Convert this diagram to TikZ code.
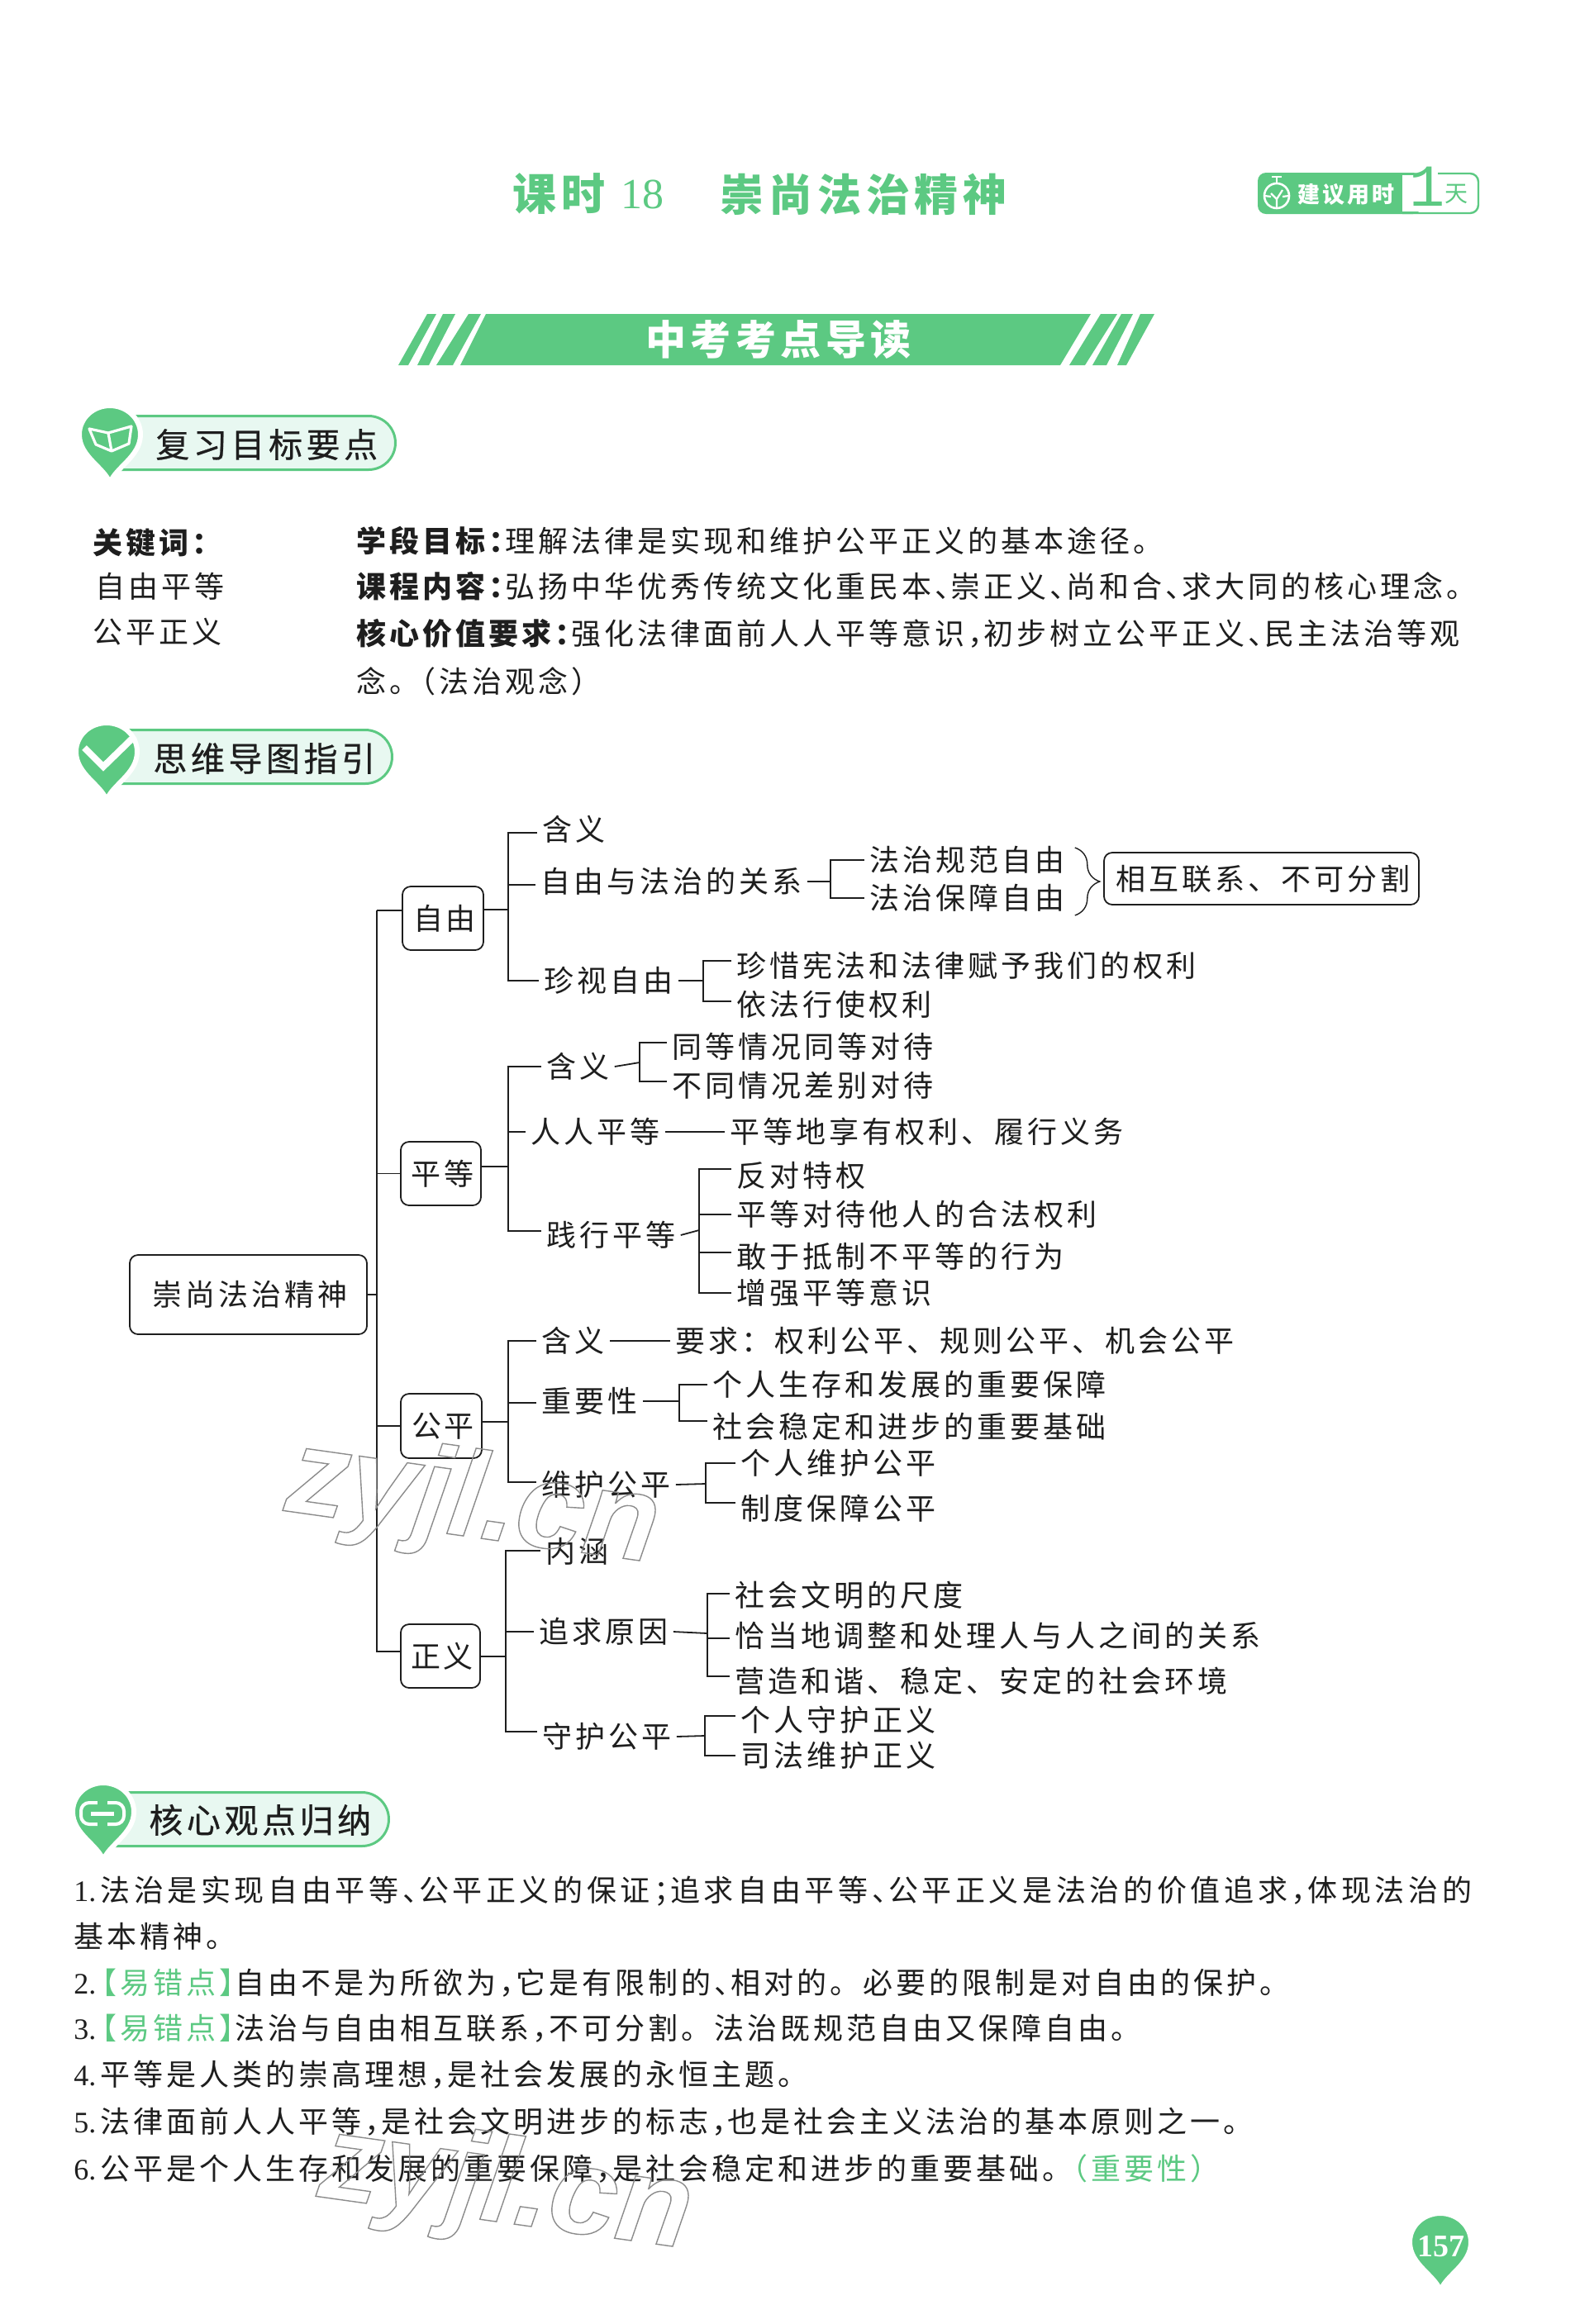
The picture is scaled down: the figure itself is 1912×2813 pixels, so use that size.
\documentclass[tikz,border=0pt]{standalone}
\usepackage{fontspec}
\usepackage{xcolor}
\usepackage{tikz}
\usetikzlibrary{positioning, arrows.meta, shapes.misc, calc, decorations.pathreplacing}

\setmainfont{Noto Sans CJK SC}[LetterSpace=11.1]
\newfontfamily\widefont{Noto Sans CJK SC}[LetterSpace=12.9]
\newfontfamily\headfont{Noto Sans CJK SC}[LetterSpace=11.1, FakeBold=0.6]
\newfontfamily\serifnum{Liberation Serif}
\newfontfamily\markfont{Liberation Sans}
\newfontfamily\monofig{Liberation Mono}
\definecolor{pagegreen}{HTML}{5CC982}
\definecolor{pillfill}{HTML}{E8F8F1}
\definecolor{inkblack}{HTML}{1E1E1E}
% half-width punctuation of the running text
\newcommand{\hw}[1]{#1\kern-.45em}
\newcommand{\hwl}[1]{\kern-.45em#1}
\newcommand{\itemnum}[1]{{\serifnum #1\kern 2.5pt}}
\newcommand{\outlinetext}[1]{\special{pdf:code q 1 Tr 0.7 w 0.55 0.55 0.55 RG}#1\special{pdf:code Q}}

\begin{document}
\begin{tikzpicture}[
    x=0.5pt, y=-0.5pt,
    leaf/.style={anchor=west, inner ysep=0pt, inner xsep=3pt, text height=15.8pt, text depth=2.2pt, text=inkblack, font=\fontsize{18}{20}\selectfont},
    textline/.style={leaf, inner xsep=0pt},
    mapbox/.style={draw=inkblack, rounded corners=5pt, line width=0.9pt, inner sep=0pt, text=inkblack, font=\fontsize{18}{20}\selectfont, execute at begin node={\kern 2pt}},
    headtext/.style={anchor=west, inner sep=0pt, text=inkblack, font=\fontsize{20.5}{22}\selectfont\headfont},
    headpill/.style={draw=pagegreen, fill=pillfill, line width=1.5pt, rounded rectangle, rounded rectangle left arc=none, anchor=west, minimum height=32.5pt, inner sep=0pt},
    treeline/.style={draw=inkblack, line width=0.9pt},
    linkline/.style={draw=inkblack, line width=1.3pt},
    stripe/.style={fill=pagegreen},
    pinmark/.pic={
        \fill[pagegreen, draw=white, line width=3pt] (0,57) .. controls (-6,38) and (-37,25) .. (-37,-2) .. controls (-37,-22) and (-20,-37) .. (0,-37) .. controls (20,-37) and (37,-22) .. (37,-2) .. controls (37,25) and (6,38) .. (0,57) -- cycle;
    }
]
\useasboundingbox (0,0) rectangle (1912,2813);
\fill[white] (0,0) rectangle (1912,2813);

% title row
\node[anchor=west, inner sep=0pt, text=pagegreen, font=\fontsize{26.5}{28}\selectfont\bfseries] (titlekeshi) at (620,235) {课时};
\node[anchor=west, inner sep=0pt, text=pagegreen, font=\fontsize{26}{28}\selectfont\serifnum] (titlenum) at (751,235) {18};
\node[anchor=west, inner sep=0pt, text=pagegreen, font=\fontsize{26.5}{28}\selectfont\bfseries] (titlename) at (871,235) {崇尚法治精神};

% suggested time badge
\fill[pagegreen, rounded corners=5pt] (1522,209) -- (1720,209) -- (1720,259) -- (1522,259) -- cycle;
\fill[white] (1697,212) rectangle (1790,256);
\draw[pagegreen, line width=1.2pt] (1697,210) -- (1705,210);
\draw[pagegreen, line width=1.2pt, rounded corners=5pt] (1740,210) -- (1789,210) -- (1789,258) -- (1697,258);
\draw[white, line width=1.3pt] (1545,237) circle [radius=15];
\draw[white, line width=1.3pt] (1545,222) -- (1545,215) (1539,214) -- (1551,214);
\draw[white, line width=1.1pt] (1538,234) -- (1545,241) -- (1552,230) (1545,241) -- (1545,252) (1530,237) -- (1538,238) (1552,238) -- (1560,237);
\node[anchor=west, inner sep=0pt, text=white, font=\fontsize{13.5}{15}\selectfont\bfseries] (badgetext) at (1570,235) {建议用时};
\node[anchor=center, inner sep=0pt, text=pagegreen, font=\fontsize{36}{36}\selectfont\monofig] (badgeone) at (1727,226) {1};
\node[anchor=center, inner sep=0pt, text=pagegreen, font=\fontsize{14}{15}\selectfont] (badgeday) at (1762,235) {天};

% guide banner
\fill[stripe] (588,380) -- (1320,380) -- (1283,442) -- (557,442) -- cycle;
\fill[stripe] (567,380) -- (582,380) -- (548,442) -- (528,442) -- cycle;
\fill[stripe] (536,380) -- (551,380) -- (519,442) -- (505,442) -- cycle;
\fill[stripe] (517,380) -- (528,380) -- (494,442) -- (482,442) -- cycle;
\fill[stripe] (1332,380) -- (1352,380) -- (1313,442) -- (1294,442) -- cycle;
\fill[stripe] (1357,380) -- (1371,380) -- (1339,442) -- (1322,442) -- cycle;
\fill[stripe] (1380,380) -- (1397,380) -- (1363,442) -- (1352,442) -- cycle;
\node[anchor=west, inner sep=0pt, text=white, font=\fontsize{24.5}{26}\selectfont\bfseries] (bannertext) at (781,411) {中考考点导读};

% section heads
\node[headpill, minimum width=172pt] (reviewpill) at (133,536) {};
\pic at (133,528) {pinmark};
\draw[white, line width=1.6pt, line join=round] (108,519) -- (131,524) -- (135,546) -- (116,538) -- cycle (131,524) -- (159,516) -- (156,537) -- (135,546);
\node[headtext] (reviewhead) at (188,538) {复习目标要点};

\node[headpill, minimum width=172pt] (guidepill) at (129,916) {};
\pic at (129,912) {pinmark};
\draw[white, line width=4pt] (102,905) -- (125,928) -- (163,891);
\node[headtext] (guidehead) at (185,918) {思维导图指引};

\node[headpill, minimum width=172pt] (corepill) at (125,2202) {};
\pic at (125,2195) {pinmark};
\draw[white, line width=2pt, rounded corners=5pt] (98,2182) rectangle (150,2208);
\fill[pagegreen] (118,2178) rectangle (130,2212);
\draw[white, line width=2.5pt] (110,2195) -- (138,2195);
\node[headtext] (corehead) at (180,2203) {核心观点归纳};

% keywords and goals
\node[textline] (kwlabel) at (112,657) {\bfseries 关键词\hw{：}};
\node[textline] (kwone) at (115,710) {自由平等};
\node[textline] (kwtwo) at (112,765) {公平正义};
\node[textline] (goalone) at (431,655) {\bfseries 学段目标\hw{：}\mdseries 理解法律是实现和维护公平正义的基本途径。};
\node[textline] (goaltwo) at (431,710) {\bfseries 课程内容\hw{：}\mdseries 弘扬中华优秀传统文化重民本\hw{、}崇正义\hw{、}尚和合\hw{、}求大同的核心理念。};
\node[textline] (goalthree) at (431,767) {\bfseries 核心价值要求\hw{：}\mdseries 强化法律面前人人平等意识\hw{，}初步树立公平正义\hw{、}民主法治等观};
\node[textline] (goalfour) at (431,825) {念。\hwl{（}法治观念）};

% mind map nodes
\node[mapbox, minimum width=143.5pt, minimum height=48pt] (rootbox) at (300.5,1567) {崇尚法治精神};
\node[mapbox, minimum width=49pt, minimum height=38.5pt] (ziyoubox) at (536,1111.5) {自由};
\node[mapbox, minimum width=48.5pt, minimum height=38.5pt] (pingdengbox) at (533.5,1420.5) {平等};
\node[mapbox, minimum width=49pt, minimum height=39pt] (gongpingbox) at (534,1726) {公平};
\node[mapbox, minimum width=48pt, minimum height=38.5pt] (zhengyibox) at (533,2004.5) {正义};

\coordinate (mainbus) at (456,1102);
\coordinate (ziyoubus) at (615,1101);
\coordinate (pingdengbus) at (615,1412);
\coordinate (gongpingbus) at (615,1721);
\coordinate (zhengyibus) at (612,2005);

% branch: ziyou
\node[leaf] (zyhan) at (650,1004) {含义};
\node[leaf] (zyguanxi) at (648,1067) {自由与法治的关系};
\node[leaf] (zyguifan) at (1046,1041) {法治规范自由};
\node[leaf] (zybaozhang) at (1046,1087) {法治保障自由};
\node[mapbox, minimum width=190.5pt, minimum height=31.5pt] (zylink) at (1526.5,1063.5) {相互联系、不可分割};
\node[leaf] (zyzhenshi) at (652,1187) {珍视自由};
\node[leaf] (zyzhenxi) at (885,1169) {珍惜宪法和法律赋予我们的权利};
\node[leaf] (zyyifa) at (885,1216) {依法行使权利};
\coordinate (zyguanxifork) at (1005,1067);
\coordinate (zyzhenshifork) at (851,1187);

% branch: pingdeng
\node[leaf] (pdhan) at (655,1291) {含义};
\node[leaf] (pdtong) at (807,1267) {同等情况同等对待};
\node[leaf] (pdbutong) at (807,1314) {不同情况差别对待};
\node[leaf] (pdrenren) at (636,1370) {人人平等};
\node[leaf] (pdxiang) at (877,1370) {平等地享有权利、履行义务};
\node[leaf] (pdjianxing) at (655,1495) {践行平等};
\node[leaf] (pdfandui) at (885,1423) {反对特权};
\node[leaf] (pddaidai) at (885,1470) {平等对待他人的合法权利};
\node[leaf] (pddikang) at (885,1521) {敢于抵制不平等的行为};
\node[leaf] (pdzengqiang) at (885,1565) {增强平等意识};
\coordinate (pdhanfork) at (774,1286);
\coordinate (pdjianxingfork) at (846,1489);

% branch: gongping
\node[leaf] (gphan) at (649,1623) {含义};
\node[leaf] (gpyaoqiu) at (811,1623) {要求：权利公平、规则公平、机会公平};
\node[leaf] (gpzhongyao) at (649,1696) {重要性};
\node[leaf] (gpgeren) at (856,1676) {个人生存和发展的重要保障};
\node[leaf] (gpshehui) at (856,1727) {社会稳定和进步的重要基础};
\node[leaf] (gpweihu) at (649,1797) {维护公平};
\node[leaf] (gpgerenwh) at (890,1771) {个人维护公平};
\node[leaf] (gpzhidu) at (890,1826) {制度保障公平};
\coordinate (gpzhongyaofork) at (822,1696);
\coordinate (gpweihufork) at (854,1796);

% branch: zhengyi
\node[leaf] (zjneihan) at (654,1878) {内涵};
\node[leaf] (zjzhuiqiu) at (646,1975) {追求原因};
\node[leaf] (zjchidu) at (883,1931) {社会文明的尺度};
\node[leaf] (zjqiadang) at (883,1980) {恰当地调整和处理人与人之间的关系};
\node[leaf] (zjyingzao) at (883,2035) {营造和谐、稳定、安定的社会环境};
\node[leaf] (zjshouhu) at (650,2102) {守护公平};
\node[leaf] (zjgeren) at (890,2082) {个人守护正义};
\node[leaf] (zjsifa) at (890,2125) {司法维护正义};
\coordinate (zjzhuiqiufork) at (856,1977);
\coordinate (zjshouhufork) at (853,2101);

% trunk
\draw[treeline] (rootbox.east) -- (rootbox.east -| mainbus);
\draw[treeline] (mainbus) -- ([yshift=4.75pt]ziyoubox.west);
\draw[treeline] (mainbus) |- (pingdengbox.west);
\draw[treeline] (mainbus) |- (gongpingbox.west);
\draw[treeline] (mainbus) |- ([yshift=2.75pt]zhengyibox.west);

% ziyou connectors
\draw[treeline] (ziyoubox.east |- ziyoubus) -- (ziyoubus);
\draw[treeline] (ziyoubus) |- ([yshift=-2pt]zyhan.west);
\draw[treeline] (ziyoubus) |- ([yshift=-2pt]zyguanxi.west);
\draw[treeline] (ziyoubus) |- (zyzhenshi.west);
\draw[treeline] (zyguanxi.east) -- (zyguanxifork);
\draw[linkline] (zyguanxifork) |- (zyguifan.west);
\draw[linkline] (zyguanxifork) |- (zybaozhang.west);
\draw[inkblack, line width=0.7pt, decorate, decoration={brace, amplitude=15pt}] ([xshift=3pt,yshift=7.5pt]zyguifan.east) -- ([xshift=3pt,yshift=-10.5pt]zybaozhang.east);
\draw[treeline] (zyzhenshi.east) -- (zyzhenshifork);
\draw[linkline] (zyzhenshifork) |- ([yshift=3pt]zyzhenxi.west);
\draw[linkline] (zyzhenshifork) |- ([yshift=2pt]zyyifa.west);

% pingdeng connectors
\draw[treeline] (pingdengbox.east |- pingdengbus) -- (pingdengbus);
\draw[treeline] (pingdengbus) |- (pdhan.west);
\draw[treeline] (pingdengbus) |- (pdrenren.west);
\draw[treeline] (pingdengbus) |- ([yshift=2.5pt]pdjianxing.west);
\draw[treeline] (pdhan.east) -- (pdhanfork);
\draw[linkline] (pdhanfork) |- ([yshift=2.5pt]pdtong.west);
\draw[linkline] (pdhanfork) |- ([yshift=2.5pt]pdbutong.west);
\draw[linkline] (pdrenren.east) -- (pdxiang.west);
\draw[treeline] (pdjianxing.east) -- (pdjianxingfork);
\draw[linkline] (pdjianxingfork) |- ([yshift=4pt]pdfandui.west);
\draw[linkline] (pdjianxingfork) |- (pddaidai.west);
\draw[linkline] (pdjianxingfork) |- ([yshift=2.5pt]pddikang.west);
\draw[linkline] (pdjianxingfork) |- (pdzengqiang.west);

% gongping connectors
\draw[treeline] (gongpingbox.east |- gongpingbus) -- (gongpingbus);
\draw[treeline] (gongpingbus) |- (gphan.west);
\draw[treeline] (gongpingbus) |- ([yshift=-1pt]gpzhongyao.west);
\draw[treeline] (gongpingbus) |- ([yshift=1.5pt]gpweihu.west);
\draw[linkline] (gphan.east) -- (gpyaoqiu.west);
\draw[treeline] (gpzhongyao.east) -- (gpzhongyaofork);
\draw[linkline] (gpzhongyaofork) |- (gpgeren.west);
\draw[linkline] (gpzhongyaofork) |- ([yshift=3.5pt]gpshehui.west);
\draw[treeline] (gpweihu.east) -- (gpweihufork);
\draw[linkline] (gpweihufork) |- (gpgerenwh.west);
\draw[linkline] (gpweihufork) |- ([yshift=3.5pt]gpzhidu.west);

% zhengyi connectors
\draw[treeline] (zhengyibox.east |- zhengyibus) -- (zhengyibus);
\draw[treeline] (zhengyibus) |- ([yshift=0.5pt]zjneihan.west);
\draw[treeline] (zhengyibus) |- (zjzhuiqiu.west);
\draw[treeline] (zhengyibus) |- ([yshift=3pt]zjshouhu.west);
\draw[treeline] (zjzhuiqiu.east) -- (zjzhuiqiufork);
\draw[linkline] (zjzhuiqiufork) |- ([yshift=1pt]zjchidu.west);
\draw[linkline] (zjzhuiqiufork) |- ([yshift=-1.5pt]zjqiadang.west);
\draw[linkline] (zjzhuiqiufork) |- ([yshift=3pt]zjyingzao.west);
\draw[treeline] (zjshouhu.east) -- (zjshouhufork);
\draw[linkline] (zjshouhufork) |- ([yshift=2.5pt]zjgeren.west);
\draw[linkline] (zjshouhufork) |- (zjsifa.west);

% core points
\node[textline] (coreone) at (89,2288) {\itemnum{1.}\widefont 法治是实现自由平等\hw{、}公平正义的保证\hw{；}追求自由平等\hw{、}公平正义是法治的价值追求\hw{，}体现法治的};
\node[textline] (coreonerest) at (89,2344) {基本精神。};
\node[textline] (coretwo) at (89,2400) {\itemnum{2.}\textcolor{pagegreen}{\hwl{【}易错点\hw{】}}自由不是为所欲为\hw{，}它是有限制的\hw{、}相对的。必要的限制是对自由的保护。};
\node[textline] (corethree) at (89,2455) {\itemnum{3.}\textcolor{pagegreen}{\hwl{【}易错点\hw{】}}法治与自由相互联系\hw{，}不可分割。法治既规范自由又保障自由。};
\node[textline] (corefour) at (89,2511) {\itemnum{4.}平等是人类的崇高理想\hw{，}是社会发展的永恒主题。};
\node[textline] (corefive) at (89,2568) {\itemnum{5.}法律面前人人平等\hw{，}是社会文明进步的标志\hw{，}也是社会主义法治的基本原则之一。};
\node[textline] (coresix) at (89,2625) {\itemnum{6.}公平是个人生存和发展的重要保障\hw{，}是社会稳定和进步的重要基础。\textcolor{pagegreen}{\hwl{（}重要性）}};

% page number
\pic at (1743,2716) {pinmark};
\node[inner sep=0pt, text=white, font=\fontsize{19}{20}\selectfont\serifnum\bfseries] (pagenum) at (1744,2719) {157};

% watermarks
\node[rotate=-8, inner sep=0pt, font=\fontsize{74}{80}\selectfont\markfont\bfseries\itshape] (markone) at (572,1822) {\outlinetext{zyjl.cn}};
\node[rotate=-8, inner sep=0pt, font=\fontsize{74}{80}\selectfont\markfont\bfseries\itshape] (marktwo) at (612,2652) {\outlinetext{zyjl.cn}};
\end{tikzpicture}
\end{document}
